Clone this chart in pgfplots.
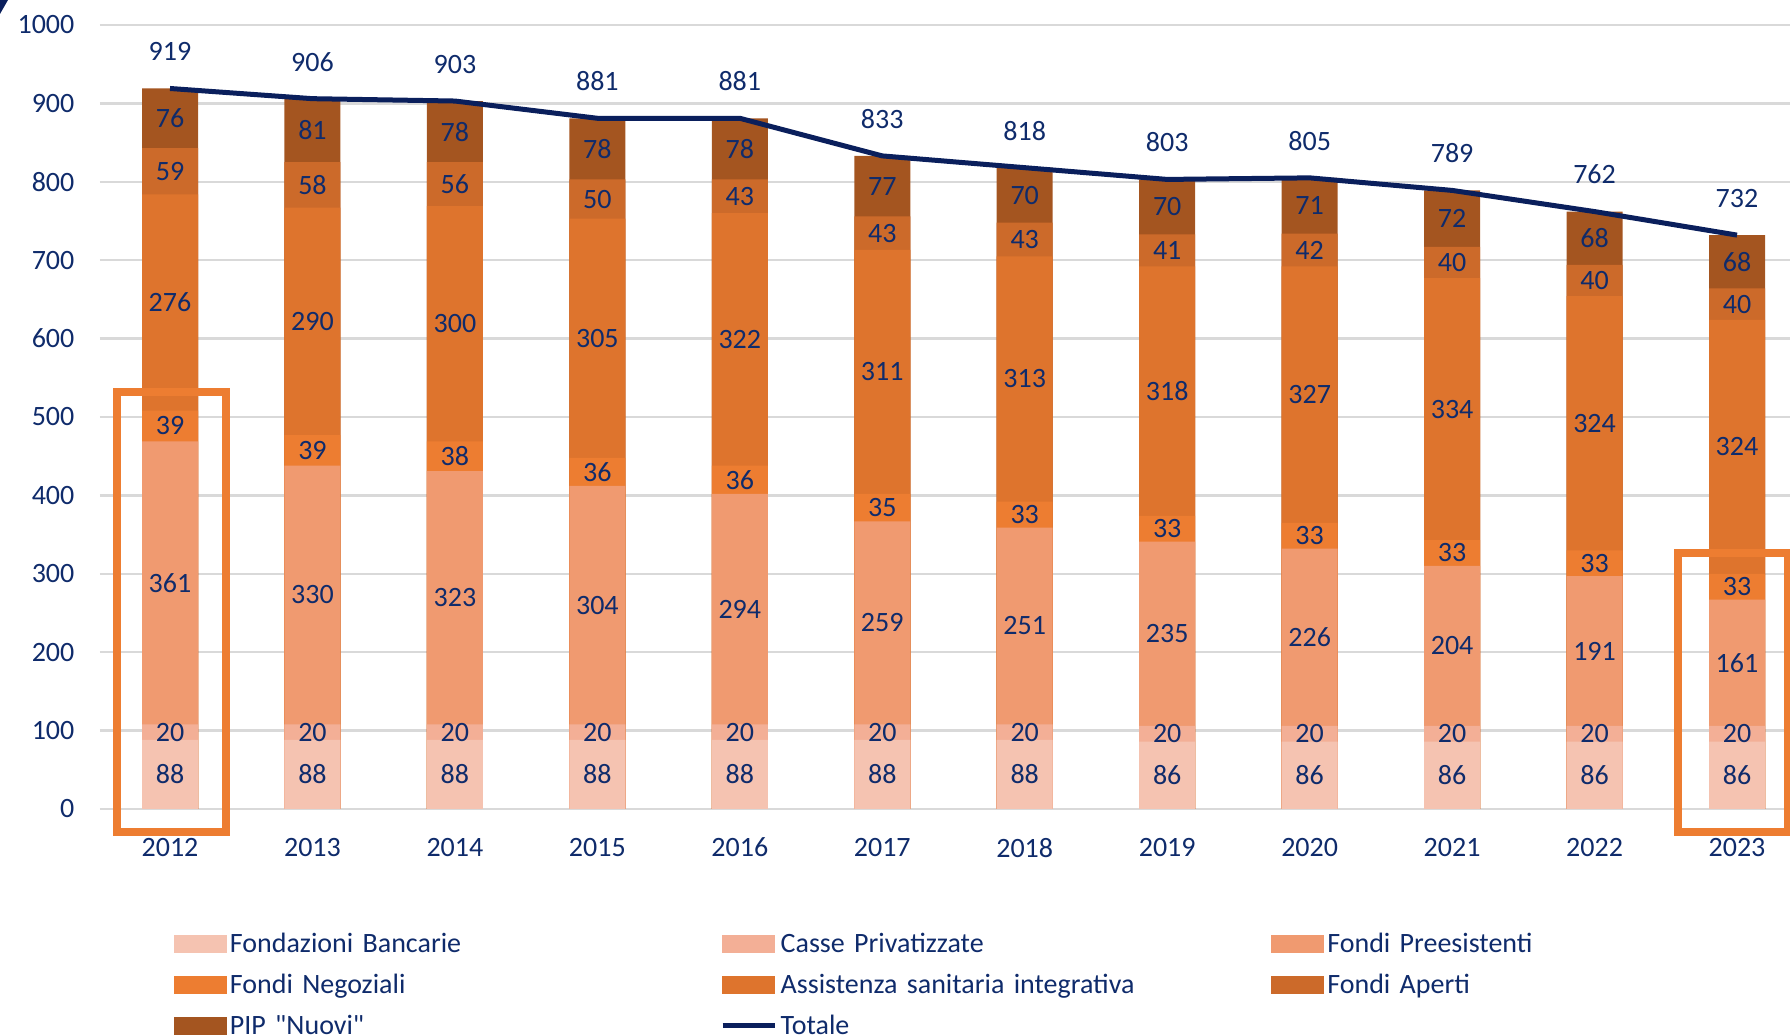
\documentclass[border=0pt]{standalone}
\usepackage{pgfplots}
\pgfplotsset{compat=1.18}
\usepackage{pgfplotstable}
\usepackage{fontspec}
\setmainfont{Carlito}
\newfontfamily\qfont{Carlito}
\definecolor{cfb}{HTML}{F5C3B1}
\definecolor{ccp}{HTML}{F3AF96}
\definecolor{cfp}{HTML}{F09A70}
\definecolor{cfn}{HTML}{ED7D31}
\definecolor{casi}{HTML}{DE742D}
\definecolor{cfa}{HTML}{CC6A2A}
\definecolor{cpip}{HTML}{A45520}
\definecolor{ctext}{HTML}{0F2B6B}
\definecolor{cline}{HTML}{0A1F5C}
\definecolor{cgrid}{HTML}{D9D9D9}
\definecolor{cbox}{HTML}{ED7D31}
\pgfplotsset{/pgf/number format/assume math mode=true,
  /pgf/number format/set thousands separator={}}
\pgfplotstableread{
x fb cp fp fn asi fa pip tot
0 88 20 361 39 276 59 76 919
1 88 20 330 39 290 58 81 906
2 88 20 323 38 300 56 78 903
3 88 20 304 36 305 50 78 881
4 88 20 294 36 322 43 78 881
5 88 20 259 35 311 43 77 833
6 88 20 251 33 313 43 70 818
7 86 20 235 33 318 41 70 803
8 86 20 226 33 327 42 71 805
9 86 20 204 33 334 40 72 789
10 86 20 191 33 324 40 68 762
11 86 20 161 33 324 40 68 732
}\data
\pgfplotsset{
  segbar/.style={ybar, bar width=28pt, bar shift=0pt, draw=none, forget plot, fill=#1},
  seglab/.style={draw=none, forget plot, nodes near coords, point meta=explicit,
    every node near coord/.append style={anchor=center, text=ctext}},
}
\begin{document}
\begin{tikzpicture}[font=\fontsize{14}{17}\selectfont]
\useasboundingbox (0,0) rectangle (895pt,518pt);
\clip (0,0) rectangle (895pt,518pt);
\fill[cline] (0,518pt) -- (4pt,518pt) -- (0,511pt) -- cycle;
\begin{axis}[
  scale only axis, width=845pt, height=392pt,
  at={(50pt,113.5pt)}, anchor=south west,
  xmin=-0.4914, xmax=11.372, ymin=0, ymax=1000,
  xtick={0,1,2,3,4,5,6,7,8,9,10,11},
  xticklabels={2012,2013,2014,2015,2016,2017,2018,2019,2020,2021,2022,2023},
  ytick={0,100,200,300,400,500,600,700,800,900,1000},
  ymajorgrids, grid style={draw=cgrid, line width=1.25pt},
  axis line style={draw=none}, major tick style={draw=none},
  xticklabel style={yshift=-11pt, text=ctext},
  yticklabel style={xshift=-9.3pt, text=ctext},
  clip=false,
  legend columns=3,
  legend style={at={(0.0435,-0.146)}, anchor=north west, draw=none, fill=none,
    inner sep=0pt, outer sep=0pt, column sep=0pt, row sep=0pt,
    nodes={text=ctext, text width=243.3pt, align=left, inner xsep=1.8pt, inner ysep=0pt,
      text height=14.75pt, text depth=5.75pt}},
]
% bars drawn tallest (cumulative) first
\addplot[segbar=cpip] table[x=x, y expr=\thisrow{fb}+\thisrow{cp}+\thisrow{fp}+\thisrow{fn}+\thisrow{asi}+\thisrow{fa}+\thisrow{pip}] {\data};
\addplot[segbar=cfa] table[x=x, y expr=\thisrow{fb}+\thisrow{cp}+\thisrow{fp}+\thisrow{fn}+\thisrow{asi}+\thisrow{fa}] {\data};
\addplot[segbar=casi] table[x=x, y expr=\thisrow{fb}+\thisrow{cp}+\thisrow{fp}+\thisrow{fn}+\thisrow{asi}] {\data};
\addplot[segbar=cfn] table[x=x, y expr=\thisrow{fb}+\thisrow{cp}+\thisrow{fp}+\thisrow{fn}] {\data};
\addplot[segbar=cfp] table[x=x, y expr=\thisrow{fb}+\thisrow{cp}+\thisrow{fp}] {\data};
\addplot[segbar=ccp] table[x=x, y expr=\thisrow{fb}+\thisrow{cp}] {\data};
\addplot[segbar=cfb] table[x=x, y=fb] {\data};
% segment labels
\addplot[seglab] table[x=x, y expr=\thisrow{fb}/2, meta=fb] {\data};
\addplot[seglab] table[x=x, y expr=\thisrow{fb}+\thisrow{cp}/2, meta=cp] {\data};
\addplot[seglab] table[x=x, y expr=\thisrow{fb}+\thisrow{cp}+\thisrow{fp}/2, meta=fp] {\data};
\addplot[seglab] table[x=x, y expr=\thisrow{fb}+\thisrow{cp}+\thisrow{fp}+\thisrow{fn}/2, meta=fn] {\data};
\addplot[seglab] table[x=x, y expr=\thisrow{fb}+\thisrow{cp}+\thisrow{fp}+\thisrow{fn}+\thisrow{asi}/2, meta=asi] {\data};
\addplot[seglab] table[x=x, y expr=\thisrow{fb}+\thisrow{cp}+\thisrow{fp}+\thisrow{fn}+\thisrow{asi}+\thisrow{fa}/2, meta=fa] {\data};
\addplot[seglab] table[x=x, y expr=\thisrow{fb}+\thisrow{cp}+\thisrow{fp}+\thisrow{fn}+\thisrow{asi}+\thisrow{fa}+\thisrow{pip}/2, meta=pip] {\data};
% total line
\addplot[cline, line width=2.5pt, line join=round, forget plot, nodes near coords, point meta=explicit,
  every node near coord/.append style={anchor=center, yshift=18.5pt, text=ctext}]
  table[x=x, y=tot, meta=tot] {\data};
% annotation boxes
\draw[cbox, line width=4pt] (axis cs:-0.372,532) rectangle (axis cs:0.393,-29);
\draw[cbox, line width=4pt] (axis cs:10.589,326.5) rectangle (axis cs:11.358,-29);
% legend
\addlegendimage{legend image code/.code={\fill[cfb] (0pt,-4.25pt) rectangle (26pt,4.25pt);}}
\addlegendentry{Fondazioni Bancarie}
\addlegendimage{legend image code/.code={\fill[ccp] (0pt,-4.25pt) rectangle (26pt,4.25pt);}}
\addlegendentry{Casse Privatizzate}
\addlegendimage{legend image code/.code={\fill[cfp] (0pt,-4.25pt) rectangle (26pt,4.25pt);}}
\addlegendentry{Fondi Preesistenti}
\addlegendimage{legend image code/.code={\fill[cfn] (0pt,-4.25pt) rectangle (26pt,4.25pt);}}
\addlegendentry{Fondi Negoziali}
\addlegendimage{legend image code/.code={\fill[casi] (0pt,-4.25pt) rectangle (26pt,4.25pt);}}
\addlegendentry{Assistenza sanitaria integrativa}
\addlegendimage{legend image code/.code={\fill[cfa] (0pt,-4.25pt) rectangle (26pt,4.25pt);}}
\addlegendentry{Fondi Aperti}
\addlegendimage{legend image code/.code={\fill[cpip] (0pt,-4.25pt) rectangle (26pt,4.25pt);}}
\addlegendentry{{\qfont PIP "Nuovi"}}
\addlegendimage{legend image code/.code={\draw[cline, line width=2.5pt] (0pt,0pt) -- (26pt,0pt);}}
\addlegendentry{Totale}
\end{axis}
\end{tikzpicture}
\end{document}
